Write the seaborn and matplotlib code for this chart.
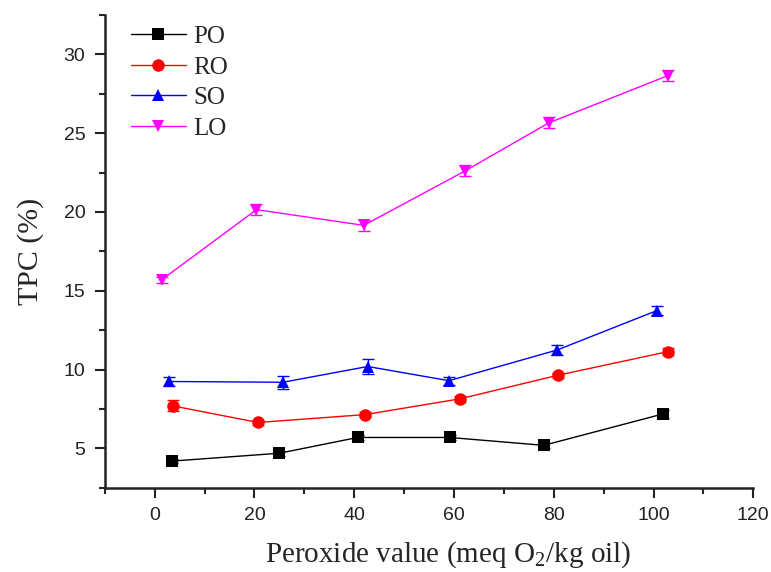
import numpy as np
import pandas as pd
import matplotlib
matplotlib.use("Agg")
import matplotlib.pyplot as plt
import seaborn as sns
from matplotlib.ticker import MultipleLocator

# valores
series = ["PO", "RO", "SO", "LO"]
po_x = [3.4, 25.0, 40.7, 59.1, 78.0, 102.0]
po_y = [4.2, 4.7, 5.7, 5.7, 5.2, 7.2]
po_err = [0.15, 0.15, 0.15, 0.15, 0.15, 0.25]
ro_x = [3.7, 20.7, 42.2, 61.2, 80.9, 103.0]
ro_y = [7.7, 6.65, 7.15, 8.15, 9.65, 11.15]
ro_err = [0.35, 0.15, 0.15, 0.2, 0.15, 0.2]
so_x = [2.9, 25.7, 42.7, 59.0, 80.7, 100.7]
so_y = [9.25, 9.2, 10.2, 9.3, 11.25, 13.75]
so_err = [0.3, 0.4, 0.45, 0.25, 0.3, 0.3]
lo_x = [1.4, 20.4, 41.9, 62.2, 79.0, 102.9]
lo_y = [15.7, 20.15, 19.15, 22.6, 25.65, 28.65]
lo_err = [0.2, 0.35, 0.35, 0.35, 0.35, 0.35]

colores = {"PO": "#000000", "RO": "#ff0000", "SO": "#0000ff", "LO": "#ff00ff"}
marcadores = {"PO": "s", "RO": "o", "SO": "^", "LO": "v"}

xs = [po_x, ro_x, so_x, lo_x]
ys = [po_y, ro_y, so_y, lo_y]
errs = [po_err, ro_err, so_err, lo_err]

df = pd.DataFrame({
    "x": np.concatenate(xs),
    "y": np.concatenate(ys),
    "err": np.concatenate(errs),
    "serie": np.repeat(series, [len(v) for v in xs]),
})

sns.set_theme(style="ticks")
plt.rcParams["font.family"] = ["Liberation Sans", "DejaVu Sans"]
plt.rcParams["mathtext.fontset"] = "custom"
plt.rcParams["mathtext.rm"] = "Liberation Serif"

fig = plt.figure(figsize=(7.71, 5.72), dpi=100)
ax = fig.add_axes([0.136, 0.147, 0.841, 0.827])

sns.lineplot(data=df, x="x", y="y", hue="serie", style="serie",
             palette=colores, markers=marcadores, dashes=False,
             hue_order=series, style_order=series, sort=False,
             linewidth=1.0, markersize=9, markeredgewidth=0, ax=ax)

for s in series:
    d = df[df["serie"] == s]
    ax.errorbar(d["x"], d["y"], yerr=d["err"], fmt="none",
                ecolor=colores[s], elinewidth=1.0, capsize=4, capthick=1.0)

ax.set_xlim(-10, 120)
ax.set_ylim(2.5, 32.5)
ax.xaxis.set_major_locator(MultipleLocator(20))
ax.xaxis.set_minor_locator(MultipleLocator(10))
ax.yaxis.set_major_locator(MultipleLocator(5))
ax.yaxis.set_minor_locator(MultipleLocator(2.5))
ax.tick_params(which="major", length=7, width=1.5, labelsize=14,
               colors="#222222", direction="out", pad=7)
ax.tick_params(which="minor", length=4, width=1.5, direction="out")
ax.set_yticks([5, 10, 15, 20, 25, 30])

sns.despine(ax=ax)
for sp in ["left", "bottom"]:
    ax.spines[sp].set_linewidth(1.8)
    ax.spines[sp].set_color("#222222")

ax.set_xlabel(r"Peroxide value (meq O$_\mathregular{2}$/kg oil)",
              family="Liberation Serif", fontsize=21, labelpad=11)
ax.xaxis.label.set_x(0.53)
ax.set_ylabel("TPC (%)", family="Liberation Serif", fontsize=21.5, labelpad=14)

leg = ax.legend(loc="upper left", bbox_to_anchor=(0.005, 1.025), frameon=False,
                prop={"family": "Liberation Serif", "size": 18},
                handlelength=2.2, labelspacing=0.32, handletextpad=0.3)

plt.savefig("out.png", dpi=100)
